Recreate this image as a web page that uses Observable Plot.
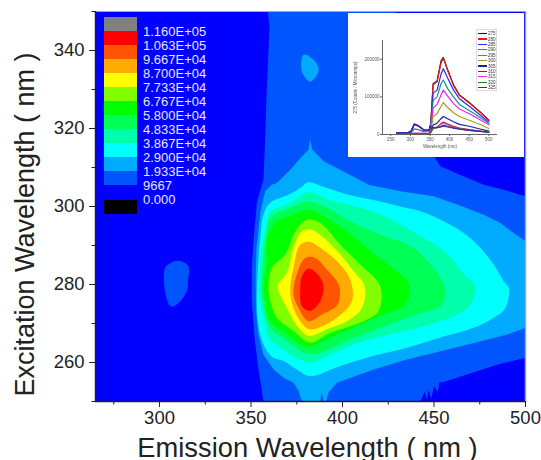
<!DOCTYPE html>
<html><head><meta charset="utf-8">
<script src="https://cdn.jsdelivr.net/npm/d3@7"></script>
<script src="https://cdn.jsdelivr.net/npm/@observablehq/plot@0.6"></script>
<style>
html,body{margin:0;padding:0;background:#fff;overflow:hidden}
#wrap{position:relative;width:541px;height:460px;overflow:hidden;font-family:"Liberation Sans",Arial,sans-serif}
#wrap svg{display:block}
#legend div{position:absolute}
#inset{position:absolute;left:348px;top:13px;width:176px;height:144px;background:#fff;filter:blur(.7px)}
#inset .lg{position:absolute;left:128px;top:16px;width:21px;height:62px;border:1px solid #ddd;background:#fff;font-size:4.6px;color:#333;box-sizing:border-box;padding-top:1px}
#inset .lg div{display:flex;align-items:center;height:5.4px}
#inset .lg i{display:block;width:9px;height:1.2px;margin:0 1px}
</style></head><body>
<div id="wrap"><div id="chart"></div><div id="legend"></div><div id="inset"></div></div>
<script>
// contour level labels, swatch colours (top to bottom)
const legendLabels = ["1.160E+05","1.063E+05","9.667E+04","8.700E+04","7.733E+04","6.767E+04","5.800E+04","4.833E+04","3.867E+04","2.900E+04","1.933E+04","9667","0.000"];
const legendColors = ["#808080","#ff0000","#ff5500","#ffaa00","#ffff00","#80ff00","#00ff00","#00ff55","#00ffaa","#00ffff","#00aaff","#0055ff","#000000"];

// contour outlines, [emission nm, excitation nm]
const c9667 = [[359.2,350],[360.1,346],[358.6,330],[357.7,317],[356.8,307],[353.2,301],[351.5,292],[350.4,284],[350.4,276],[352,266],[354,258.6],[356.8,250],[442.5,250],[445,252.5],[446,250.5],[447,253],[448.5,250.8],[450,254],[452,252.5],[453,255],[455.3,255],[471.7,257.5],[485,259.5],[500,261.2],[500,302.6],[488.1,304.3],[477.2,305.6],[464.4,308.1],[453.4,310.3],[450.7,312.4],[440,330],[428.8,350]];
const c9667b = [[303,284.2],[306,285.5],[310.3,286.1],[315.8,284.7],[315.5,281],[314.9,278.3],[309.4,274.9],[306.1,274.4],[303,278.3]];
const c1933 = [[382.4,317.1],[383.3,314.6],[389.7,311.6],[400.6,309],[414.2,305.6],[431.6,303.9],[449.8,302.6],[462.6,300.5],[477.2,297.9],[486.3,295.8],[493.6,293.2],[500,291.1],[500,268.9],[490,267.2],[471.7,265],[453.5,262.9],[435.2,260.8],[417,258.2],[396.9,254.8],[392.4,252.3],[391,250],[389.6,250],[388.7,252.3],[387.8,250],[377.8,250],[376,252.7],[373.2,254.8],[367.8,256.1],[362.3,258.2],[356.8,262],[354,267.2],[352.8,273],[352.5,281],[353,289.4],[355.2,298.8],[357.7,303.9],[361.3,305.6],[364.1,306],[371.4,309.4],[376.9,312.4],[381.4,314.6]];
const c1933b = [[378.7,338.9],[384.2,337.6],[387,335],[382.4,332],[377.8,334.6]];
const c2900 = [[381.4,306.2],[388.7,305.2],[403.3,303],[416,301.7],[431.6,300],[442.5,298.8],[455.3,296.2],[466.2,293.2],[475.3,289.4],[482.6,285.1],[488.1,280.8],[490.9,279.1],[489,274],[482.7,271.5],[471.7,268.9],[453.5,266.4],[435.2,263.8],[417,261.7],[398.8,259.1],[382.3,256.5],[375,258.2],[367.8,260.4],[362.3,261.2],[357.7,263.8],[355,267.2],[353.5,271.5],[353.2,278.3],[353.8,284],[355,292],[356.8,297.9],[360.4,300.9],[370.4,303],[376.8,304.7]];
const c3867 = [[381.4,303.7],[392.3,301.7],[406.9,300],[421.5,297.9],[431.6,295.4],[442.5,292.4],[453.4,289.4],[460.7,286],[466.2,282.6],[472.6,279.6],[469.9,274.9],[462.6,272.3],[448,269.8],[429.8,267.6],[411.5,265.5],[393.3,262.1],[382.3,259.9],[375,261.2],[365.9,263.8],[359.5,266.4],[356.8,271.5],[354.6,278.3],[355.5,288],[358.6,295.4],[360.4,298.8],[366.8,300],[374.1,301.7]];
const c4833 = [[381.4,301.3],[391.5,299.6],[404.2,296.2],[420.6,292.8],[438.9,289.4],[448,285.1],[455.3,280],[454.4,274.9],[440.7,272.3],[420.6,268.9],[402.4,265.5],[382.3,262.1],[369.6,265.5],[360.5,268.9],[357.7,272.3],[355.9,279.1],[356.8,286.8],[358.3,292.8],[360.5,297],[371.4,299.6]];
const c5800 = [[381.4,299.2],[389.6,297.5],[402.4,293.6],[415.2,288.5],[426.1,284.7],[436.2,280],[434.3,274.9],[422.5,272.3],[406,268.9],[387.8,265.1],[381.4,263.8],[369.6,267.2],[360.5,270.6],[357.7,275.7],[356.8,280],[358.6,285.1],[358.6,291.9],[364.1,296.2],[373.2,297.9]];
const c6767 = [[380.5,296.6],[387.8,295.8],[398.8,290.2],[409.7,285.1],[420.6,279.6],[419.7,273.2],[411.5,270.6],[393.3,267.6],[382.3,265.1],[373.2,268.1],[364.1,271.5],[360.5,275.7],[359.5,279.1],[361.4,284.3],[368.7,287.7],[374.1,293.6]];
const c7733 = [[377.8,293.6],[383.2,294],[388.7,292.4],[398.8,287.7],[406.1,283.4],[412.1,279.6],[410.6,274],[402.4,270.6],[393.3,268.9],[381.4,266.8],[376,268.9],[369.6,274],[364.6,279.6],[369.6,283],[373.2,289.4]];
const c8700 = [[376.9,290.2],[382.3,290.9],[387.8,289.4],[396.9,286],[404.2,281.3],[405.1,275.7],[396.9,271.5],[382.3,268.5],[376.9,270.6],[373.2,274],[371.4,278.3],[373.2,284.3]];
const c9667k = [[379.6,286.8],[385.1,286.8],[391.5,283.8],[398.2,279.6],[397.3,274.9],[388.7,272.3],[381.4,270.6],[376,274],[373.2,277.4],[375,282.6]];
const c10630 = [[381.4,284.1],[386.4,282.6],[389.6,279.6],[387.8,275.7],[382.3,273.2],[377.8,274.4],[376.9,279.1],[377.8,282.1]];

const outerLayers = [
  {level:"9667", pts:c9667},{level:"1.933E+04", pts:c1933}
];
const smoothLayers = [
  {level:"9667", pts:c9667b},{level:"1.933E+04", pts:c1933b},
  {level:"2.900E+04", pts:c2900},{level:"3.867E+04", pts:c3867},
  {level:"4.833E+04", pts:c4833},{level:"5.800E+04", pts:c5800},
  {level:"6.767E+04", pts:c6767},{level:"7.733E+04", pts:c7733},
  {level:"8.700E+04", pts:c8700},{level:"9.667E+04", pts:c9667k},
  {level:"1.063E+05", pts:c10630}
];

const xMajor = [300,350,400,450,500], xMinor = [275,325,375,425,475];
const yMajor = [260,280,300,320,340], yMinor = [250,270,290,310,330,350];

// inset spectra
const insetWl = [265,295,302,310,320,335,348,352,358,368,378,384,395,410,425,450,480,500];
const s275 = [5000,5000,9000,28000,24000,12000,12000,30000,135000,142000,195000,205000,172000,132000,105000,85000,58000,38000];
const s280 = [5000,5000,9000,27000,23000,11000,11000,28000,132000,140000,190000,203000,170000,130000,104000,84000,57000,37000];
const s285 = [5000,5000,8000,27000,23000,11000,11000,26000,110000,118000,160000,175000,150000,118000,95000,75000,50000,33000];
const s290 = [2500,2500,5000,15000,13000,7000,8000,20000,90000,100000,135000,145000,122000,100000,80000,64000,44000,30000];
const s295 = [2000,2000,3000,4000,4000,3000,4000,14000,70000,80000,105000,118000,102000,82000,68000,55000,38000,26000];
const s300 = [1500,1500,2000,2500,2500,2000,3000,10000,48000,55000,75000,85000,72000,58000,48000,38000,26000,16000];
const s305 = [1200,1200,1500,2000,2000,1500,2500,8000,25000,30000,42000,48000,42000,34000,27000,22000,14000,9000];
const s310 = [1000,1000,1200,1500,1500,1200,2000,6000,18000,20000,29000,33000,28000,22000,17000,13000,9000,6000];
const s315 = [1000,1000,1200,1500,1500,1200,2000,6000,17000,19000,27000,31000,26000,20000,16000,12000,8500,6000];
const s320 = [1000,1000,1200,1500,1500,1200,2000,5000,16000,18000,22000,25000,22000,18000,15000,11000,8000,5500];
const s325 = [5000,5000,8000,28000,23000,11000,11000,22000,18000,18000,20000,23000,20000,17000,14000,11000,8000,6000];
const seriesNames = ["275","280","285","290","295","300","305","310","315","320","325"];
const seriesVals = [s275,s280,s285,s290,s295,s300,s305,s310,s315,s320,s325];
const seriesColors = ["#111111","#f01818","#2a2af0","#129090","#f020f0","#a0a020","#20209a","#a02020","#f030c0","#208020","#3a20c0"];
const insetYTicks = [0,100000,200000], insetXTicks = [250,300,350,400,450,500];

const tickColor = "#222";
const chart = Plot.plot({
  width:541, height:460, marginLeft:95, marginRight:16, marginTop:11, marginBottom:59,
  style:{background:"transparent", fontFamily:'"Liberation Sans",Arial,sans-serif', color:tickColor, overflow:"visible"},
  x:{domain:[265,500], label:null}, y:{domain:[250,350], label:null},
  color:{type:"ordinal", domain:legendLabels, range:legendColors},
  marks:[
    Plot.frame({fill:"#0000ff", stroke:null}),
    ...outerLayers.map(l => Plot.line(l.pts, {x:d=>d[0], y:d=>d[1], fill:()=>l.level, stroke:null, clip:true})),
    ...smoothLayers.map(l => Plot.line(l.pts, {x:d=>d[0], y:d=>d[1], fill:()=>l.level, stroke:null, clip:true, curve:"catmull-rom-closed"})),
    Plot.ruleX([500],{stroke:"#9a9aff", strokeWidth:1.5}),
    Plot.ruleY([350],{stroke:"#9a9aff", strokeWidth:1}),
    Plot.axisX({ticks:xMajor, tickSize:6, tickPadding:3.5, fontSize:18.5, label:null, stroke:tickColor, fill:tickColor}),
    Plot.axisX({ticks:xMinor, tickSize:3.5, fill:"none", label:null, stroke:tickColor}),
    Plot.axisY({ticks:yMajor, tickSize:6, tickPadding:5, fontSize:18.5, label:null, stroke:tickColor, fill:tickColor}),
    Plot.axisY({ticks:yMinor, tickSize:3.5, fill:"none", label:null, stroke:tickColor}),
    Plot.ruleY([250],{stroke:"#222", strokeWidth:1.5}),
    Plot.ruleX([265],{stroke:"#222", strokeWidth:1.5}),
    Plot.text(["Emission Wavelength ( nm )"],{frameAnchor:"bottom", dy:55, dx:-3, fontSize:27.3, fill:tickColor, textAnchor:"middle", lineAnchor:"bottom"}),
    Plot.text(["Excitation Wavelength ( nm )"],{frameAnchor:"left", dx:-70, dy:18, rotate:-90, fontSize:27, fill:tickColor, textAnchor:"middle"})
  ]
});
document.getElementById("chart").append(chart);

// contour legend
const lg = document.getElementById("legend");
legendLabels.forEach((t,i)=>{
  const isBlack = i===legendLabels.length-1;
  const top = isBlack ? 199.5 : 16.8+i*14;
  const sw = document.createElement("div");
  sw.style.cssText = `left:103.5px;top:${top}px;width:33.5px;height:14px;background:${legendColors[i]}`;
  lg.append(sw);
  const tx = document.createElement("div");
  tx.textContent = t;
  const center = isBlack ? 200 : 32+i*14;
  tx.style.cssText = `left:143px;top:${center-8}px;font-size:13px;line-height:16px;color:#e6e6ff`;
  lg.append(tx);
});

// inset spectra
const rows = seriesNames.flatMap((n,k)=>insetWl.map((w,j)=>({w, v:seriesVals[k][j], n})));
const ins = Plot.plot({
  width:176, height:144, marginLeft:34, marginRight:27, marginTop:27, marginBottom:23,
  style:{background:"#fff", fontFamily:'"Liberation Sans",Arial,sans-serif', color:"#555"},
  x:{domain:[229,522], label:null}, y:{domain:[0,250000], label:null},
  color:{type:"ordinal", domain:seriesNames, range:seriesColors},
  marks:[
    Plot.ruleY([0],{stroke:"#666"}), Plot.ruleX([229],{stroke:"#666"}),
    Plot.axisX({ticks:insetXTicks, tickSize:2, tickPadding:1, fontSize:4.5, label:"Wavelength (nm)", labelAnchor:"center", labelArrow:"none", labelOffset:13, stroke:"#666", fill:"#555"}),
    Plot.axisY({ticks:insetYTicks, tickSize:2, tickPadding:1, fontSize:4.5, tickFormat:d=>String(d), label:"275 (Counts / Microamps)", labelAnchor:"center", labelArrow:"none", labelOffset:29, stroke:"#666", fill:"#555"}),
    Plot.line(rows,{x:"w", y:"v", z:"n", stroke:"n", strokeWidth:1.2})
  ]
});
const inset = document.getElementById("inset");
inset.append(ins);
const box = document.createElement("div"); box.className="lg";
seriesNames.forEach((n,i)=>{
  const r=document.createElement("div");
  const k=document.createElement("i"); k.style.background=seriesColors[i];
  const s=document.createElement("span"); s.textContent=n;
  r.append(k,s); box.append(r);
});
inset.append(box);
</script>
</body></html>
